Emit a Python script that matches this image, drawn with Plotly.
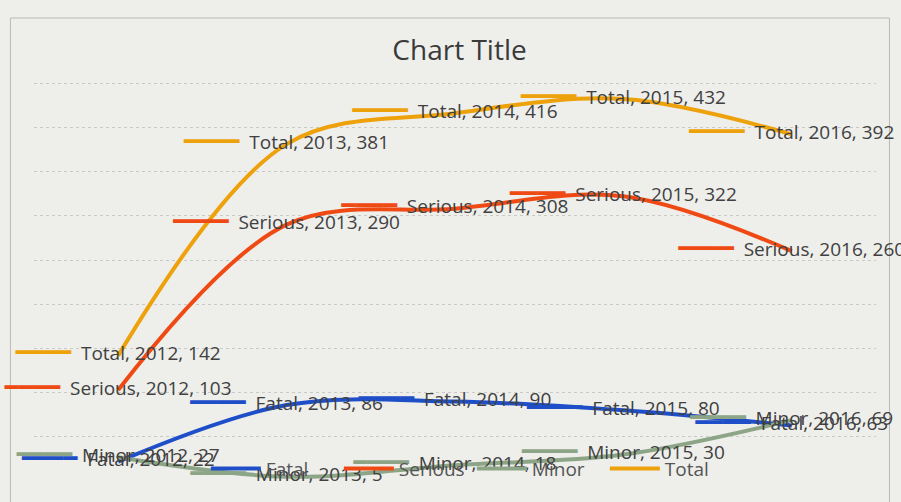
"""Crash counts by severity, 2012-2016 (smoothed Excel-style line chart)."""

import plotly.graph_objects as go

years   = ["2012", "2013", "2014", "2015", "2016"]
fatal   = [22, 86, 90, 80, 63]
serious = [103, 290, 308, 322, 260]
minor   = [27, 5, 18, 30, 69]
total   = [142, 381, 416, 432, 392]

_BG    = "#eeeeeb"
_GRID  = "#c9c9c6"
_TEXT  = "#404040"

series = [
    ("Fatal",   fatal,   "#1f4fc8"),
    ("Serious", serious, "#f04a14"),
    ("Minor",   minor,   "#8da587"),
    ("Total",   total,   "#eda10b"),
]

_FONT = "Open Sans, Liberation Sans, sans-serif"

fig = go.Figure()

# ── Smoothed lines (drawn first so every label sits on top) ────────────────
for name, vals, color in series:
    fig.add_trace(go.Scatter(
        x=years, y=vals,
        mode="lines",
        name=name,
        line=dict(color=color, width=4, shape="spline", smoothing=1.0),
        hoverinfo="skip",
    ))

# ── Data labels with legend key, centred on each point ─────────────────────
for name, vals, color in series:
    labels = [
        f"<span style='color:{color};font-family:DejaVu Sans;font-size:23px'>━━━━</span>"
        f"\u00a0\u00a0{name}, {yr}, {v}"
        for yr, v in zip(years, vals)
    ]
    fig.add_trace(go.Scatter(
        x=years, y=vals,
        mode="text",
        text=labels,
        textposition="middle center",
        textfont=dict(color=_TEXT, size=19, family=_FONT),
        cliponaxis=False,
        showlegend=False,
        hoverinfo="skip",
    ))

# chart-area border
fig.add_shape(
    type="rect", xref="paper", yref="paper",
    x0=-0.028, x1=1.016, y0=-0.2, y1=1.045,
    line=dict(color="#b9b9b6", width=1),
    layer="below",
)

fig.update_layout(
    width=901, height=502,
    paper_bgcolor=_BG,
    plot_bgcolor=_BG,
    margin=dict(l=34, r=25, t=38, b=20),
    title=dict(
        text="Chart Title",
        x=0.51, xanchor="center",
        y=0.90, yanchor="middle",
        font=dict(size=28, color="#3a3a3a", family=_FONT),
    ),
    showlegend=True,
    legend=dict(
        orientation="h",
        x=0.52, xanchor="center",
        y=0.03, yanchor="middle",
        bgcolor="rgba(0,0,0,0)",
        font=dict(size=19, color="#555555", family=_FONT),
        entrywidth=68,
        itemwidth=50,
    ),
)
fig.update_xaxes(
    range=[-0.5, 4.5],
    showgrid=False, showticklabels=False, showline=False,
    zeroline=False, ticks="",
)
fig.update_yaxes(
    range=[-1, 501], dtick=50,
    showgrid=True, gridcolor=_GRID, gridwidth=1, griddash="dot",
    zeroline=False, showticklabels=False, showline=False, ticks="",
)

fig.write_html(
    "out.html",
    config={"displayModeBar": False},
    post_script="document.body.style.margin='0';",
)
